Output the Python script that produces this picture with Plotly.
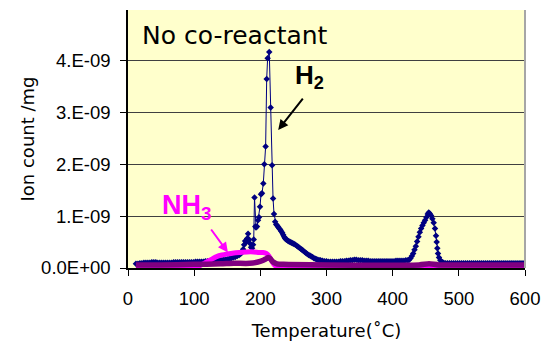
import plotly.graph_objects as go

# Temperature programmed desorption, no co-reactant
# ion counts are stored in units of 1E-09 (ion count / mg)

h2_temp = [
    12, 15, 18, 21, 24, 27, 30, 33, 36, 39, 42, 45, 48, 51, 54, 57, 60, 63, 66, 69,
    72, 75, 78, 81, 84, 87, 90, 93, 96, 99, 102, 105, 108, 111, 114, 117, 120, 123, 126, 129,
    132, 135, 138, 141, 144, 147, 150, 153, 156, 159, 162, 165, 168,
    170, 172, 174, 175.5, 177, 178.5, 180, 181.5, 183, 184.5, 186, 187.5, 189, 190, 191.2, 192.4,
    193.5, 195, 196.5, 198, 199.5, 201, 202.5, 204.5, 206, 208, 209.6, 211, 213.5, 215.6, 217.7,
    219.2, 220.7, 222.4, 224, 225.5, 227, 228.5, 230, 231.5, 233, 234.5, 236, 237.5, 239, 240.5,
    242, 243.5, 245, 246.5, 248, 249.5, 251, 253, 255, 257, 259, 261, 263, 265, 267, 269,
    271, 273, 275, 277, 279, 281, 283, 285, 287, 289, 291, 294, 297, 300, 303,
    306, 309, 312, 315, 318, 321, 324, 327, 330, 333, 336, 339, 342, 345, 348, 351, 354, 357,
    360, 363, 366, 369, 372, 375, 378, 381, 384, 387, 390, 393, 396, 399, 402, 405, 408, 411,
    414, 417, 420, 423,
    425, 427, 429, 431, 433, 435, 437, 439, 441, 443, 445, 447, 449, 451, 453, 454.5, 456, 458,
    460, 462, 464, 465.5, 466.5, 467.5, 468.5, 470, 472, 474, 477, 480,
    483, 486, 489, 492, 495, 498, 501, 504, 507, 510, 513, 516, 519, 522, 525, 528, 531, 534,
    537, 540, 543, 546, 549, 552, 555, 558, 561, 564, 567, 570, 573, 576, 579, 582, 585, 588,
    591, 594, 597, 600,
]
h2_ion = [
    0.08, 0.08, 0.09, 0.09, 0.10, 0.10, 0.10, 0.10, 0.11, 0.11, 0.11, 0.10, 0.10, 0.10, 0.10, 0.10, 0.10, 0.10, 0.10, 0.11,
    0.11, 0.11, 0.11, 0.11, 0.11, 0.11, 0.11, 0.11, 0.11, 0.11, 0.12, 0.12, 0.12, 0.12, 0.12, 0.13, 0.13, 0.13, 0.13, 0.13,
    0.14, 0.14, 0.15, 0.15, 0.16, 0.16, 0.17, 0.18, 0.19, 0.20, 0.21, 0.23, 0.25,
    0.27, 0.30, 0.36, 0.45, 0.52, 0.50, 0.57, 0.66, 0.55, 0.47, 0.40, 0.38, 0.45, 0.55, 1.36, 0.80,
    0.78, 0.80, 0.92, 0.98, 1.18, 1.42, 1.44, 1.63, 2.00, 2.34, 3.64, 4.04, 4.16, 3.09, 1.98,
    1.34, 1.04, 0.89, 0.84, 0.82, 0.79, 0.76, 0.74, 0.71, 0.68, 0.64, 0.60, 0.57, 0.55, 0.54,
    0.52, 0.51, 0.50, 0.49, 0.48, 0.47, 0.46, 0.45, 0.43, 0.41, 0.39, 0.37, 0.35, 0.33, 0.31, 0.29,
    0.27, 0.25, 0.24, 0.22, 0.21, 0.19, 0.18, 0.17, 0.16, 0.15, 0.15, 0.14, 0.13, 0.13, 0.12,
    0.12, 0.12, 0.12, 0.12, 0.12, 0.13, 0.13, 0.13, 0.14, 0.14, 0.15, 0.15, 0.16, 0.16, 0.15, 0.15, 0.15, 0.14,
    0.14, 0.14, 0.13, 0.13, 0.13, 0.13, 0.13, 0.13, 0.13, 0.13, 0.13, 0.13, 0.13, 0.13, 0.13, 0.14, 0.14, 0.14,
    0.14, 0.14, 0.15, 0.15,
    0.16, 0.19, 0.23, 0.28, 0.35, 0.42, 0.51, 0.60, 0.69, 0.76, 0.82, 0.87, 0.92, 0.98, 1.04, 1.07, 1.05, 1.01,
    0.95, 0.87, 0.76, 0.62, 0.50, 0.38, 0.28, 0.20, 0.15, 0.12, 0.10, 0.09,
    0.09, 0.09, 0.09, 0.09, 0.09, 0.09, 0.09, 0.09, 0.09, 0.09, 0.09, 0.09, 0.09, 0.09, 0.09, 0.09, 0.09, 0.09,
    0.09, 0.09, 0.09, 0.09, 0.09, 0.09, 0.09, 0.09, 0.09, 0.09, 0.09, 0.09, 0.09, 0.09, 0.09, 0.09, 0.09, 0.09,
    0.09, 0.09, 0.09, 0.09,
]

nh3_temp = [12, 60, 100, 108, 115, 121, 128, 134, 142, 150, 160, 170, 180, 190, 198, 204,
            209, 213, 217, 220, 224, 232, 250, 440, 455, 470, 600]
nh3_ion = [0.00, 0.00, 0.01, 0.04, 0.09, 0.13, 0.18, 0.22, 0.25, 0.27, 0.29, 0.30, 0.31, 0.31, 0.30, 0.30,
           0.28, 0.23, 0.14, 0.08, 0.03, 0.01, 0.00, 0.00, 0.02, 0.00, 0.00]

other_temp = [12, 50, 100, 140, 160, 184, 195, 204.5, 209, 212, 215, 219, 225, 235, 300, 440, 455, 470, 600]
other_ion = [0.06, 0.06, 0.07, 0.08, 0.09, 0.09, 0.11, 0.15, 0.18, 0.20, 0.18, 0.12, 0.08, 0.07, 0.06, 0.06, 0.08, 0.06, 0.06]

x_ticks = [0, 100, 200, 300, 400, 500, 600]
y_ticks = [0, 1, 2, 3, 4]
y_tick_text = ["0.0E+00", "1.E-09", "2.E-09", "3.E-09", "4.E-09"]

NAVY = "#000080"
MAGENTA = "#FF00FF"
PURPLE = "#800080"

fig = go.Figure()
fig.add_trace(go.Scatter(
    x=h2_temp, y=h2_ion, mode="lines+markers", name="H2",
    line=dict(color=NAVY, width=1),
    marker=dict(symbol="diamond", size=5, color=NAVY),
))
fig.add_trace(go.Scatter(
    x=nh3_temp, y=nh3_ion, mode="lines", name="NH3",
    line=dict(color=MAGENTA, width=5, shape="spline", smoothing=0.6),
))
fig.add_trace(go.Scatter(
    x=other_temp, y=other_ion, mode="lines", name="other",
    line=dict(color=PURPLE, width=5.5, shape="spline", smoothing=0.6),
))

title_font = "DejaVu Sans"
tick_font = "Liberation Sans, Arial"
fig.add_annotation(x=18, y=4.47, xref="x", yref="y", text="No co-reactant", showarrow=False,
                   xanchor="left", yanchor="middle", font=dict(family=title_font, size=25, color="black"))
fig.add_annotation(x=249, y=3.69, xref="x", yref="y", text="<b>H<sub>2</sub></b>", showarrow=False,
                   xanchor="left", yanchor="middle",
                   font=dict(family=tick_font, size=26, color="black"))
fig.add_annotation(x=227, y=2.66, ax=266, ay=3.29, xref="x", yref="y", axref="x", ayref="y",
                   text="", showarrow=True, arrowhead=2, arrowsize=1, arrowwidth=2, arrowcolor="black")
fig.add_annotation(x=48, y=1.17, xref="x", yref="y", text="<b>NH<sub>3</sub></b>", showarrow=False,
                   xanchor="left", yanchor="middle",
                   font=dict(family=tick_font, size=27, color=MAGENTA))
fig.add_annotation(x=151, y=0.30, ax=124, ay=0.77, xref="x", yref="y", axref="x", ayref="y",
                   text="", showarrow=True, arrowhead=2, arrowsize=1, arrowwidth=2, arrowcolor=MAGENTA)

# grey right-hand border of the plot area
fig.add_shape(type="line", xref="paper", yref="paper", x0=1, x1=1, y0=0, y1=1,
              line=dict(color="#A6A6A6", width=2))

fig.update_layout(
    width=543, height=343,
    margin=dict(l=128, r=18, t=10, b=75),
    paper_bgcolor="white", plot_bgcolor="#FFFFCC",
    showlegend=False,
    font=dict(family=title_font, size=18, color="black"),
    xaxis=dict(
        range=[0, 600], tickvals=x_ticks, ticks="outside", ticklen=6, tickcolor="black",
        showline=True, linecolor="black", linewidth=1.5, showgrid=False, zeroline=False,
        tickfont=dict(family=tick_font, size=18.5), ticklabelstandoff=7, automargin=False,
        title=dict(text="Temperature(˚C)", font=dict(family=title_font, size=18), standoff=16),
    ),
    yaxis=dict(
        range=[0, 4.97], tickvals=y_ticks, ticktext=y_tick_text, ticks="outside", ticklen=6,
        tickcolor="black", showline=True, linecolor="black", linewidth=1.5,
        showgrid=True, gridcolor="#404040", gridwidth=1, zeroline=False,
        tickfont=dict(family=tick_font, size=18.5), ticklabelstandoff=6, automargin=False,
        title=dict(text="Ion count /mg", font=dict(family=title_font, size=18), standoff=2),
    ),
)

fig.write_html("out.html")
